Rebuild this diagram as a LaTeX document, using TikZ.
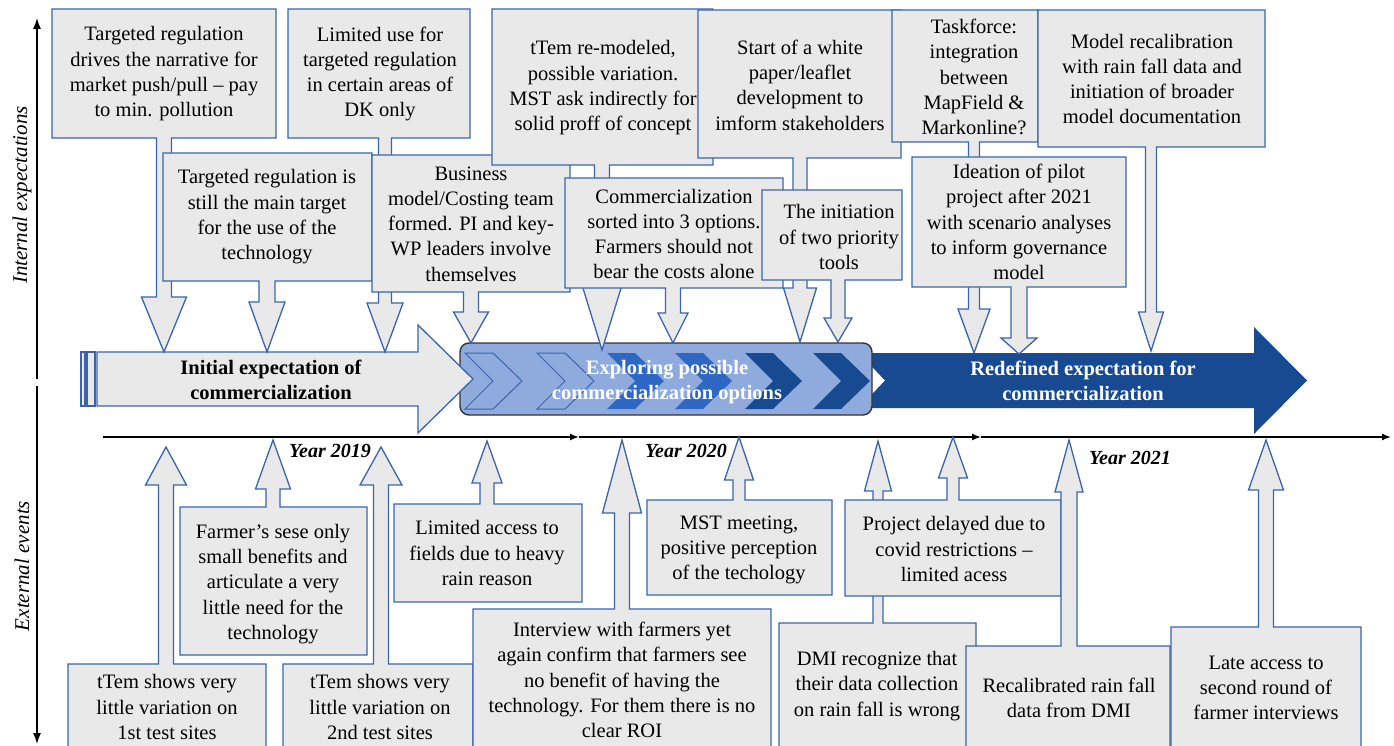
\documentclass[tikz,border=0pt]{standalone}
\usepackage{fontspec}
\setmainfont{Liberation Serif}
\usetikzlibrary{arrows.meta}
\definecolor{boxgray}{HTML}{E9E9E9}
\definecolor{boxblue}{HTML}{3A65AE}
\definecolor{rectblue}{HTML}{8FAADC}
\definecolor{medblue}{HTML}{2E67C4}
\definecolor{darkblue}{HTML}{174A91}
\tikzset{
  callout/.style={fill=boxgray, draw=boxblue, line width=1.3pt, line join=miter},
  txt/.style={inner sep=0pt, align=center, font=\fontsize{20.5}{25.3}\selectfont},
  bartxt/.style={inner sep=0pt, align=center, font=\fontsize{20.5}{25}\selectfont\bfseries},
  yeartxt/.style={inner sep=0pt, font=\fontsize{20}{24}\selectfont\bfseries\itshape},
  sidetxt/.style={inner sep=0pt, rotate=90, font=\fontsize{21}{25}\selectfont\itshape},
  axis/.style={line width=1.4pt, -{Latex[length=11pt,width=8pt]}},
  tline/.style={line width=1.4pt, -{Latex[length=9pt,width=7pt]}},
  chevout/.style={fill=rectblue, draw=boxblue, line width=1pt},
  chevmed/.style={fill=medblue, draw=none},
  chevdark/.style={fill=darkblue, draw=none}
}
% down callout: x1,y1,x2,y2 (box), cx, half stem, head top, half head, tip
\newcommand{\calldown}[9]{%
  \draw[callout] (#1,#2) -- (#3,#2) -- (#3,#4) -- ({#5+#6},#4) -- ({#5+#6},#7) -- ({#5+#8},#7) -- (#5,#9) -- ({#5-#8},#7) -- ({#5-#6},#7) -- ({#5-#6},#4) -- (#1,#4) -- cycle;}
% up callout: x1,y1(top),x2,y2(bottom), cx, half stem, head base, half head, tip
\newcommand{\callup}[9]{%
  \draw[callout] (#1,#4) -- (#1,#2) -- ({#5-#6},#2) -- ({#5-#6},#7) -- ({#5-#8},#7) -- (#5,#9) -- ({#5+#8},#7) -- ({#5+#6},#7) -- ({#5+#6},#2) -- (#3,#2) -- (#3,#4) -- cycle;}
\newcommand{\chev}[2]{%
  \path[#1] (#2,353) -- ({#2+28},353) -- ({#2+57},381) -- ({#2+28},409) -- (#2,409) -- ({#2+28},381) -- cycle;}
\begin{document}
\begin{tikzpicture}[x=1pt,y=-1pt]
\useasboundingbox (0,0) rectangle (1394,746);
\clip (0,0) rectangle (1394,746);
\fill[white] (0,0) rectangle (1394,746);

% side axes
\draw[axis] (37,379) -- (37,18);
\draw[axis] (37,386) -- (37,744);
\node[sidetxt] (lint) at (22,195) {Internal expectations};
\node[sidetxt] (lext) at (22,566) {External events};

% timeline
\coordinate (t0) at (103,437);
\coordinate (t1) at (579,437);
\coordinate (t2) at (981,437);
\coordinate (t3) at (1391,437);
\draw[tline] (t0) -- (t1);
\draw[tline] (t1) -- (t2);
\draw[tline] (t2) -- (t3);
\node[yeartxt] (y19) at (330,451) {Year 2019};
\node[yeartxt] (y20) at (686,451) {Year 2020};
\node[yeartxt] (y21) at (1130,458) {Year 2021};

% dark redefined arrow (behind rounded rectangle)
\fill[darkblue] (859,353) -- (1254,353) -- (1254,327) -- (1307,380.5) -- (1254,434) -- (1254,408) -- (859,408) -- (885,380.5) -- cycle;
% rounded rectangle
\draw[fill=rectblue, draw=black!80, line width=1.4pt, rounded corners=9pt] (460,343) rectangle (872,415);
\chev{chevout}{465}
\chev{chevout}{537}
\chev{chevmed}{607}
\chev{chevmed}{675}
\chev{chevdark}{745}
\chev{chevdark}{813}
% light initial arrow
\draw[callout] (81,352) rectangle (85,406);
\draw[callout] (87,352) rectangle (95,406);
\draw[callout] (97,352) -- (418,352) -- (418,325) -- (473,379) -- (418,433) -- (418,406) -- (97,406) -- cycle;

\node[bartxt] (initial) at (271,380) {Initial expectation of\\commercialization};
\node[bartxt, text=white] (explore) at (667,382) {Exploring possible\\commercialization options};
\node[bartxt, text=white] (redef) at (1083,381) {Redefined expectation for\\commercialization};

% ---- internal expectations (top callouts)
\calldown{52}{9}{276}{138}{164}{7.5}{297}{22.5}{352}
\node[txt] (a1) at (164,74) {Targeted regulation\\drives the narrative for\\market push/pull – pay\\to min. pollution};
\calldown{288}{9}{470}{138}{385}{6.5}{303}{18}{352}
\node[txt] (a2) at (380,74) {Limited use for\\targeted regulation\\in certain areas of\\DK only};
\calldown{163}{153}{372}{281}{267}{8}{302}{18}{352}
\node[txt] (a3) at (267,217) {Targeted regulation is\\still the main target\\for the use of the\\technology};
\calldown{372}{155}{570}{292}{471}{7.5}{312}{17.5}{343}
\node[txt] (a4) at (471,224) {Business\\model/Costing team\\formed. PI and key-\\WP leaders involve\\themselves};
\calldown{492}{9}{713}{165}{602}{7.5}{285}{20}{350}
\node[txt] (a5) at (603,88) {tTem re-modeled,\\possible variation.\\MST ask indirectly for\\solid proff of concept};
\calldown{565}{178}{783}{288}{673}{7.5}{313}{15}{343}
\node[txt] (a6) at (674,234) {Commercialization\\sorted into 3 options.\\Farmers should not\\bear the costs alone};
\calldown{698}{10}{901}{158}{800}{7}{288}{16.5}{342}
\node[txt] (a7) at (800,85) {Start of a white\\paper/leaflet\\development to\\imform stakeholders};
\calldown{762}{190}{902}{280}{838}{7}{318}{14}{342}
\node[txt] (a8) at (839,237) {The initiation\\of two priority\\tools};
\calldown{892}{10}{1038}{142}{974}{5.5}{309}{16}{353}
\node[txt] (a9) at (974,77) {Taskforce:\\integration\\between\\MapField \&\\Markonline?};
\calldown{912}{157}{1126}{287}{1019}{8}{338}{18}{354}
\node[txt] (a10) at (1019,222) {Ideation of pilot\\project after 2021\\with scenario analyses\\to inform governance\\model};
\calldown{1038}{10}{1265}{147}{1151}{5.5}{312}{12.5}{351}
\node[txt] (a11) at (1152,79) {Model recalibration\\with rain fall data and\\initiation of broader\\model documentation};

% ---- external events (bottom callouts)
\callup{68}{664}{266}{760}{166}{7.5}{485}{20.5}{447}
\node[txt] (b1) at (167,707) {tTem shows very\\little variation on\\1st test sites};
\callup{180}{507}{367}{655}{273}{7}{489}{17.5}{440}
\node[txt] (b2) at (273,584) {Farmer’s sese only\\small benefits and\\articulate a very\\little need for the\\technology};
\callup{283}{664}{473}{760}{381}{7.5}{485}{21}{447}
\node[txt] (b3) at (380,707) {tTem shows very\\little variation on\\2nd test sites};
\callup{394}{504}{582}{602}{487}{7}{483}{15}{441}
\node[txt] (b4) at (487,553) {Limited access to\\fields due to heavy\\rain reason};
\callup{473}{609}{771}{760}{622}{7.5}{513}{19.5}{440}
\node[txt] (b5) at (622,680) {Interview with farmers yet\\again confirm that farmers see\\no benefit of having the\\technology. For them there is no\\clear ROI};
\callup{647}{500}{832}{595}{739}{6}{480}{14.5}{437}
\node[txt] (b6) at (739,550) {MST meeting,\\positive perception\\of the techology};
\callup{779}{623}{976}{760}{878}{5}{491}{13.5}{441}
\node[txt] (b7) at (877,686) {DMI recognize that\\their data collection\\on rain fall is wrong};
\callup{845}{500}{1061}{596}{953}{6}{478}{14.5}{437}
\node[txt] (b8) at (954,549) {Project delayed due to\\covid restrictions –\\limited acess};
\callup{966}{646}{1170}{760}{1069}{8}{492}{14}{440}
\node[txt] (b9) at (1069,698) {Recalibrated rain fall\\data from DMI};
\callup{1171}{627}{1361}{760}{1266}{7.5}{490}{17.5}{440}
\node[txt] (b10) at (1266,688) {Late access to\\second round of\\farmer interviews};
\end{tikzpicture}
\end{document}
